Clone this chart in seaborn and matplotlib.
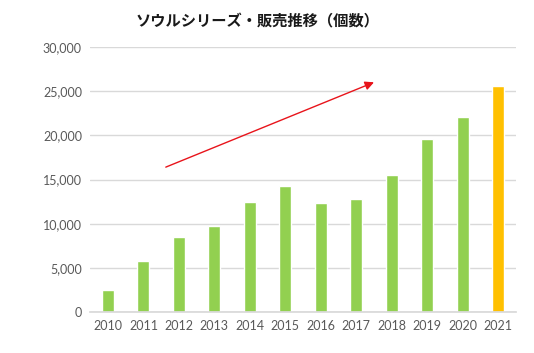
import matplotlib
matplotlib.use('Agg')
import matplotlib.pyplot as plt
import seaborn as sns
import pandas as pd
from matplotlib.ticker import FuncFormatter

years = ['2010', '2011', '2012', '2013', '2014', '2015',
         '2016', '2017', '2018', '2019', '2020', '2021']
sales = [2500, 5800, 8500, 9700, 12450, 14250,
         12350, 12800, 15500, 19600, 22100, 25600]
bar_colors = ['#92D050'] * 11 + ['#FFC000']

df = pd.DataFrame({'year': years, 'sales': sales})

sns.set_theme(style='white')
plt.rcParams['font.family'] = ['Lato', 'Noto Sans CJK JP', 'DejaVu Sans']

fig = plt.figure(figsize=(5.34, 3.53), dpi=100)
ax = fig.add_axes([0.169, 0.116, 0.797, 0.751])

sns.barplot(x='year', y='sales', data=df, hue='year', palette=bar_colors,
            legend=False, width=0.34, saturation=1, ax=ax)

ax.set_ylim(0, 30000)
ax.set_yticks(range(0, 30001, 5000))
ax.yaxis.set_major_formatter(FuncFormatter(lambda v, p: f'{int(v):,}'))
ax.set_xlim(-0.5, 11.5)
ax.grid(axis='y', color='#D9D9D9', linewidth=1)
ax.set_axisbelow(True)
for s in ['top', 'right', 'left']:
    ax.spines[s].set_visible(False)
ax.spines['bottom'].set_color('#D9D9D9')
ax.tick_params(axis='both', length=0, labelsize=9, colors='#595959', pad=6)
ax.set_xlabel('')
ax.set_ylabel('')

# trend arrow
ax.annotate('', xy=(7.5, 26000), xytext=(1.63, 16400),
            arrowprops=dict(arrowstyle='-|>', color='#E8141B', lw=1,
                            mutation_scale=13, shrinkA=0, shrinkB=0))

fig.text(0.482, 0.94, 'ソウルシリーズ・販売推移（個数）', ha='center', va='center',
         fontsize=11, fontweight='bold', color='#1a1a1a',
         family=['Noto Sans CJK JP', 'DejaVu Sans'])

fig.savefig('out.png', dpi=100)
